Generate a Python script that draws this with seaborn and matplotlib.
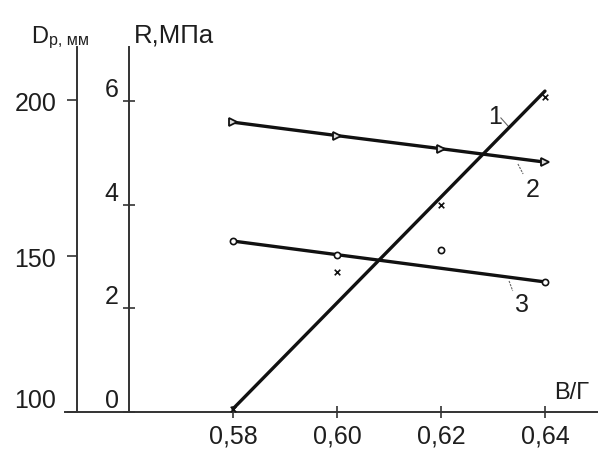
import matplotlib
matplotlib.use("Agg")
import matplotlib.pyplot as plt
import seaborn as sns

# data
bg = [0.58, 0.60, 0.62, 0.64]            # В/Г
fit_x = [0.58, 0.64]

r_points = [0.05, 2.70, 4.00, 6.08]       # curve 1, R, МПа
r_fit = [0.06, 6.19]

dp2 = [192.9, 188.6, 184.4, 180.1]        # curve 2, Dp, мм

dp3_points = [154.8, 150.3, 151.9, 141.7]  # curve 3, Dp, мм
dp3_fit = [154.8, 141.7]

x_ticks = [0.58, 0.60, 0.62, 0.64]
x_labels = ["0,58", "0,60", "0,62", "0,64"]
dp_ticks = [100, 150, 200]
r_ticks = [0, 2, 4, 6]

sns.set_theme(style="white")
plt.rcParams["font.family"] = ["Liberation Sans", "DejaVu Sans"]

ink = "#111111"
txt = "#1e1e1e"
axc = "#333333"

fig = plt.figure(figsize=(5.98, 4.52), dpi=100)
ax = fig.add_axes([65 / 598, 39 / 452, 533 / 598, 365 / 452])
ax2 = ax.twinx()

# curve 2 (triangles) and curve 3 (circles) on the Dp axis
sns.lineplot(x=bg, y=dp2, ax=ax, color=ink, lw=2.4, marker=">", markersize=6,
             markerfacecolor="#dddddd", markeredgecolor=ink, markeredgewidth=1.3)
sns.lineplot(x=fit_x, y=dp3_fit, ax=ax, color=ink, lw=2.4)
sns.scatterplot(x=bg, y=dp3_points, ax=ax, marker="o", s=20, facecolor="white",
                edgecolor=ink, linewidth=1.2, zorder=5)

# curve 1 on the R axis
sns.lineplot(x=fit_x, y=r_fit, ax=ax2, color=ink, lw=2.4)
sns.scatterplot(x=bg, y=r_points, ax=ax2, marker="x", s=16, color=ink,
                linewidth=1.2, zorder=5)

ax.set_xlim(0.5477, 0.6502)
ax.set_ylim(100, 217.0)
ax2.set_ylim(0, 7.04)

for a in (ax, ax2):
    for s in a.spines.values():
        s.set_visible(False)
    a.grid(False)
    a.set_xlabel("")
    a.set_ylabel("")

ax.spines["bottom"].set_visible(True)
ax.spines["bottom"].set_color(axc)
ax.spines["bottom"].set_linewidth(1.4)
ax.spines["left"].set_visible(True)
ax.spines["left"].set_position(("data", 0.55))
ax.spines["left"].set_color(axc)
ax.spines["left"].set_linewidth(1.4)

ax2.spines["left"].set_visible(True)
ax2.spines["left"].set_position(("data", 0.56))
ax2.spines["left"].set_color(axc)
ax2.spines["left"].set_linewidth(1.4)
ax2.yaxis.set_ticks_position("left")

ax.set_xticks(x_ticks, x_labels)
ax.set_yticks(dp_ticks, [str(v) for v in dp_ticks])
ax2.set_yticks(r_ticks, [str(v) for v in r_ticks])

ax.tick_params(axis="x", direction="inout", length=9, width=1.2, color=axc,
               labelsize=18, labelcolor=txt, pad=4, bottom=True)
ax.tick_params(axis="y", direction="out", length=7, width=1.2, color=axc,
               labelsize=18, labelcolor=txt, pad=8, left=True)
ax2.tick_params(axis="y", direction="inout", length=9, width=1.2, color=axc,
                labelsize=18, labelcolor=txt, pad=3, left=True, right=False,
                labelleft=True, labelright=False)

for lab in ax2.get_yticklabels():
    lab.set_va("bottom")
ax.get_yticklabels()[0].set_va("bottom")

# curve numbers with leader lines
ax.text(0.6304, 194.9, "1", fontsize=18, color=txt, ha="center", va="center")
ax.plot([0.6315, 0.6331], [194.3, 191.3], color="#666666", lw=0.8)
ax.text(0.6377, 171.5, "2", fontsize=18, color=txt, ha="center", va="center")
ax.plot([0.6348, 0.6358], [179.5, 176.3], color="#666666", lw=0.8, ls=(0, (2, 1)))
ax.text(0.6356, 134.6, "3", fontsize=18, color=txt, ha="center", va="center")
ax.plot([0.6331, 0.6338], [142.0, 138.8], color="#666666", lw=0.8, ls=(0, (2, 1)))

ax.text(0.6485, 106.5, "В/Г", fontsize=17, color=txt, ha="right", va="center")

# axis titles
fig.text(31 / 598, 1 - 43 / 452, "D", fontsize=17, color=txt, va="baseline")
fig.text(49 / 598, 1 - 45 / 452, "р, мм", fontsize=11.5, color=txt, va="baseline")
fig.text(134 / 598, 1 - 43 / 452, "R,МПа", fontsize=18.5, color=txt, va="baseline")

fig.savefig("out.png", dpi=100)
